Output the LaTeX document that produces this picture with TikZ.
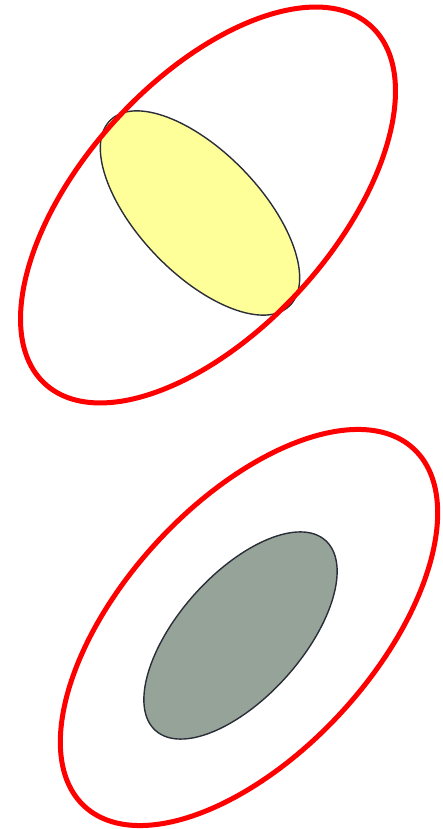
\documentclass[tikz,border=0pt]{standalone}
\usepackage{tikz}
\definecolor{ringred}{HTML}{FF0000}
\definecolor{paleyellow}{HTML}{FFFF99}
\definecolor{sagegray}{HTML}{95A399}
\definecolor{darkline}{HTML}{2B2E38}
\tikzset{
  ring/.style={draw=ringred, line width=5pt},
  innerblob/.style={draw=darkline, line width=1.4pt}
}
\begin{document}
\begin{tikzpicture}
\useasboundingbox (0pt,0pt) rectangle (442pt,829pt);
% top pair
\path[innerblob, fill=paleyellow, shift={(200pt,616pt)}, rotate=-46.1] (0,0) ellipse [x radius=129pt, y radius=61pt];
\path[ring, shift={(208pt,624pt)}, rotate=47.7] (0,0) ellipse [x radius=242pt, y radius=125.5pt];
% bottom pair
\path[innerblob, fill=sagegray, shift={(240.5pt,193.5pt)}, rotate=48.2] (0,0) ellipse [x radius=127.5pt, y radius=61.7pt];
\path[ring, shift={(249pt,201.5pt)}, rotate=47.4] (0,0) ellipse [x radius=243pt, y radius=125.5pt];
\end{tikzpicture}
\end{document}
